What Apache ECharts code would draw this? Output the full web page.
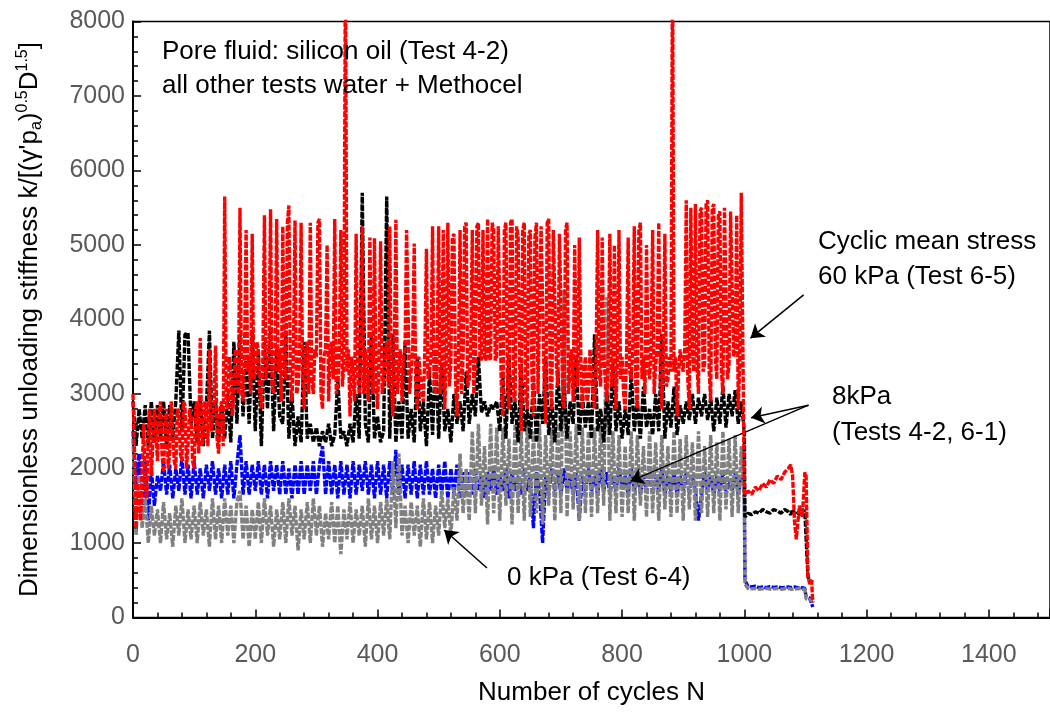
<!DOCTYPE html>
<html>
<head>
<meta charset="utf-8">
<script src="https://cdn.jsdelivr.net/npm/echarts@6/dist/echarts.min.js"></script>
<style>
html,body{margin:0;padding:0;background:#fff;}
#chart{width:1050px;height:716px;}
</style>
</head>
<body>
<div id="chart"></div>
<script>
// Number of cycles N for tests 4-2, 6-1, 6-4 (every 5 cycles, then the tail after cycle 1000)
const cycles = [
0,5,10,15,20,25,30,35,40,45,
50,55,60,65,70,75,80,85,90,95,
100,105,110,115,120,125,130,135,140,145,
150,155,160,165,170,175,180,185,190,195,
200,205,210,215,220,225,230,235,240,245,
250,255,260,265,270,275,280,285,290,295,
300,305,310,315,320,325,330,335,340,345,
350,355,360,365,370,375,380,385,390,395,
400,405,410,415,420,425,430,435,440,445,
450,455,460,465,470,475,480,485,490,495,
500,505,510,515,520,525,530,535,540,545,
550,555,560,565,570,575,580,585,590,595,
600,605,610,615,620,625,630,635,640,645,
650,655,660,665,670,675,680,685,690,695,
700,705,710,715,720,725,730,735,740,745,
750,755,760,765,770,775,780,785,790,795,
800,805,810,815,820,825,830,835,840,845,
850,855,860,865,870,875,880,885,890,895,
900,905,910,915,920,925,930,935,940,945,
950,955,960,965,970,975,980,985,990,995,
1000,
1001,1006,1012,1018,1024,1030,1036,1042,1048,1054,
1060,1066,1072,1076,1079,1082,1085,1090,1095,1099,
1101,1104,1107,1110,1112];

// Number of cycles N for test 6-5 (every 2.5 cycles, then the tail)
const cycles65 = [
0,2.5,5,7.5,10,12.5,15,17.5,20,22.5,25,27.5,30,32.5,35,37.5,40,42.5,45,47.5,
50,52.5,55,57.5,60,62.5,65,67.5,70,72.5,75,77.5,80,82.5,85,87.5,90,92.5,95,97.5,
100,102.5,105,107.5,110,112.5,115,117.5,120,122.5,125,127.5,130,132.5,135,137.5,140,142.5,145,147.5,
150,152.5,155,157.5,160,162.5,165,167.5,170,172.5,175,177.5,180,182.5,185,187.5,190,192.5,195,197.5,
200,202.5,205,207.5,210,212.5,215,217.5,220,222.5,225,227.5,230,232.5,235,237.5,240,242.5,245,247.5,
250,252.5,255,257.5,260,262.5,265,267.5,270,272.5,275,277.5,280,282.5,285,287.5,290,292.5,295,297.5,
300,302.5,305,307.5,310,312.5,315,317.5,320,322.5,325,327.5,330,332.5,335,337.5,340,342.5,345,347.5,
350,352.5,355,357.5,360,362.5,365,367.5,370,372.5,375,377.5,380,382.5,385,387.5,390,392.5,395,397.5,
400,402.5,405,407.5,410,412.5,415,417.5,420,422.5,425,427.5,430,432.5,435,437.5,440,442.5,445,447.5,
450,452.5,455,457.5,460,462.5,465,467.5,470,472.5,475,477.5,480,482.5,485,487.5,490,492.5,495,497.5,
500,502.5,505,507.5,510,512.5,515,517.5,520,522.5,525,527.5,530,532.5,535,537.5,540,542.5,545,547.5,
550,552.5,555,557.5,560,562.5,565,567.5,570,572.5,575,577.5,580,582.5,585,587.5,590,592.5,595,597.5,
600,602.5,605,607.5,610,612.5,615,617.5,620,622.5,625,627.5,630,632.5,635,637.5,640,642.5,645,647.5,
650,652.5,655,657.5,660,662.5,665,667.5,670,672.5,675,677.5,680,682.5,685,687.5,690,692.5,695,697.5,
700,702.5,705,707.5,710,712.5,715,717.5,720,722.5,725,727.5,730,732.5,735,737.5,740,742.5,745,747.5,
750,752.5,755,757.5,760,762.5,765,767.5,770,772.5,775,777.5,780,782.5,785,787.5,790,792.5,795,797.5,
800,802.5,805,807.5,810,812.5,815,817.5,820,822.5,825,827.5,830,832.5,835,837.5,840,842.5,845,847.5,
850,852.5,855,857.5,860,862.5,865,867.5,870,872.5,875,877.5,880,882.5,885,887.5,890,892.5,895,897.5,
900,902.5,905,907.5,910,912.5,915,917.5,920,922.5,925,927.5,930,932.5,935,937.5,940,942.5,945,947.5,
950,952.5,955,957.5,960,962.5,965,967.5,970,972.5,975,977.5,980,982.5,985,987.5,990,992.5,995,997.5,
1000,
1001,1006,1012,1018,1024,1030,1036,1042,1048,1054,
1060,1066,1072,1076,1079,1082,1085,1090,1095,1099,
1101,1104,1107,1110,1112];

// Cyclic mean stress 60 kPa (Test 6-5) - red
const stress60kPa = [
3000,2200,1200,1800,1500,1300,2000,2600,1700,1600,2500,2800,1900,1900,2800,2500,2100,2700,2900,2200,
1950,2600,2800,2000,2200,2900,2900,2100,2000,2800,2750,2200,2100,2900,2850,2000,2300,2800,2700,2100,
2000,2800,2900,2200,3750,2300,2400,2900,2800,2300,3600,2500,2500,2800,3650,2400,2200,2800,2900,2300,
5650,2900,2800,3500,3300,2700,3000,3600,3600,3000,5500,3100,2900,3600,5200,3300,3500,3000,5150,3200,
3300,3700,3600,3000,2800,3500,5400,3200,3400,3600,5480,3100,3000,3500,5350,3300,3600,2900,5250,3400,
3200,5300,5530,3100,2900,3600,5330,3000,3100,3500,5300,3200,2800,3600,3700,3000,5300,3200,3000,3600,
3500,5300,5350,3000,2800,3500,3600,5000,2900,3600,3700,3200,5350,3000,3100,3600,5200,3100,3400,9000,
3300,3600,2700,3500,3300,2900,5150,3300,3000,3600,5250,3000,3600,3300,2900,5100,3400,3000,5090,3200,
2800,3500,5050,3000,3200,3600,3700,3100,5250,3200,2700,3600,5340,3000,3400,3600,2900,3500,3600,5200,
5200,3000,3300,3600,5020,3100,2800,3500,3500,3000,2900,3600,4950,3200,3300,3500,5250,3100,3000,3600,
5250,3000,3200,5200,2800,3500,5300,3100,3400,5100,5150,3200,2700,3500,5200,3000,3500,5250,5300,3100,
3200,3600,5200,3000,3450,5250,5300,3500,3450,5200,3500,3450,5350,3500,3450,5300,5200,3450,3500,5250,
5250,3100,2700,5200,5300,3200,2800,5300,5350,3000,2900,5250,5100,3400,2500,5200,5300,3000,2800,5150,
5200,3300,2700,5100,5300,3000,3000,5250,5250,3200,2600,5300,5350,3100,2800,5200,5200,3400,3100,5150,
5150,3200,2800,5200,5300,3000,3400,3600,2900,5000,3600,3100,5100,3500,2800,3300,3500,2900,3000,3600,
3600,3000,2800,3500,5200,3300,3100,5100,3500,3200,2900,3600,5150,3100,3300,5000,2800,3500,5200,3200,
3500,3000,2800,3600,5100,3300,3200,3600,5250,3100,2800,5200,5300,3200,3500,3000,5000,3400,3200,3600,
5200,3000,3400,3600,5300,3200,2800,3500,5150,3100,3200,3500,3300,9000,3300,3500,2700,3300,3600,3400,
3300,3600,5600,3200,2800,5500,3600,3300,5550,3400,3000,5450,5500,3300,3400,5550,5600,3300,2900,5500,
5550,3500,3200,5400,5450,3300,3000,5500,5500,3200,3400,5450,5450,3500,3600,5400,2800,3400,5700,3700,
1700,
1650,1700,1650,1750,1700,1800,1750,1850,1800,1900,
1850,1950,2000,2050,1900,1300,1050,1500,1350,1950,
1900,550,450,500,200];

// 8 kPa (Test 4-2) - black
const test42 = [
2900,2300,2800,2400,2850,2300,2900,2350,2850,2400,
2900,2300,2850,2400,2900,3850,2500,3800,3820,2600,
2900,2350,2950,2300,2800,3850,2400,2900,2350,2850,
2400,3000,2350,3700,2600,3800,2700,3500,2600,3850,
2500,3600,2300,3700,2800,3850,2500,3600,2700,2600,
3850,2400,3000,2300,2700,2350,3700,2400,2600,2350,
2550,2300,2500,2350,2600,2300,2450,3200,2400,2500,
2300,2600,2350,3000,2400,5700,2600,2350,3800,2400,
2700,2350,2500,5650,2400,3800,2350,2900,2400,3700,
2400,2800,2350,3500,2500,2900,2300,3300,2450,3600,
2400,3400,2500,2800,2350,3000,2600,2900,2500,3300,
2600,3000,2700,3500,2750,2900,2700,2850,2800,2900,
2500,3300,2400,3500,2600,2900,2350,3400,2500,2800,
2400,3200,2350,3000,2600,3500,2450,2900,2350,3300,
2500,3100,2400,2900,2600,3500,2450,3000,2550,2900,
2400,3800,2500,2800,2350,3000,2450,3400,2500,2900,
2400,2800,2450,3300,2500,2900,2400,3100,2550,2800,
2450,3000,2500,3800,2400,2900,2550,3100,2450,2850,
2600,2900,2650,3000,2600,2950,2700,3000,2650,2950,
2500,2950,2600,3100,2550,3000,2700,3050,2600,2900,
2500,
1350,1400,1380,1420,1400,1450,1420,1400,1450,1430,
1400,1450,1420,1380,1450,1400,1430,1380,1450,1420,
1400,550,500,480,470];

// 8 kPa (Test 6-1) - blue
const test61 = [
2500,1800,2200,1350,2100,1300,2000,1500,1900,1700,
2100,1650,2050,1600,2000,1700,2150,1650,2050,1600,
2100,1650,2000,1600,2050,1700,2100,1650,2000,1600,
2050,1650,2100,1600,2050,2450,1650,2100,1650,2050,
1700,2100,1650,2050,1600,2100,1700,2050,1650,2100,
1650,2000,1600,2050,1650,2100,1650,2050,1700,2100,
1650,2050,2300,1650,2100,1650,2050,1600,2100,1650,
2050,1600,2100,1650,2050,1700,2100,1650,2050,1600,
2100,1650,2050,1600,2100,1650,2250,1650,2050,1600,
2050,1650,2100,1600,2050,1650,2100,1650,2000,1600,
2050,1650,2100,1600,2000,1650,2050,1600,1950,1650,
1950,1650,2000,1700,1900,1600,1950,1700,2000,1650,
1900,1700,2000,1600,1950,1700,1900,1650,2000,1700,
1900,1200,1950,1700,1000,1900,1650,2000,1700,1950,
1650,2000,1700,1900,1650,1950,1300,1900,1700,2000,
1700,1900,1650,2000,1700,1950,1650,1900,1700,2000,
1750,1900,1650,2000,1700,1950,1650,1900,1700,1950,
1650,1900,1700,2000,1650,1900,1700,1950,1650,1900,
1700,1950,1650,1900,1700,1300,1650,1950,1700,1900,
1650,1900,1700,1950,1650,1850,1700,1950,1650,1900,
1800,
500,420,410,420,400,410,400,415,405,410,
400,405,410,400,405,410,400,395,400,390,
280,270,260,250,140];

// 0 kPa (Test 6-4) - grey
const test64 = [
2400,1100,1900,1200,1600,1000,1500,1100,1450,1000,
1550,1050,1400,950,1500,1100,1600,1000,1450,1050,
1500,1000,1550,1100,1450,950,1600,1050,1500,1000,
1600,1100,1500,1000,1550,1700,1050,1500,950,1450,
1050,1550,1000,1600,1100,1500,950,1450,1050,1550,
1000,1600,1100,1500,900,1450,1050,1550,1000,1600,
1100,1500,950,1400,1050,1550,1000,1500,850,1450,
1050,1550,1000,1450,1100,1500,950,1600,1050,1500,
1000,1550,1100,1600,1050,2100,1200,2200,1100,1500,
1000,1550,1100,1500,950,1600,1050,1550,1000,1500,
1100,1700,1200,1600,1100,1750,1300,2200,1400,2000,
1300,2500,1400,2600,1500,2300,1250,2600,1400,2550,
1300,2550,1500,2400,1250,2600,1400,2500,1300,2650,
1350,2500,1400,2600,1250,2450,1500,2550,1300,2600,
1400,4400,1350,2500,1450,2600,1300,2550,1400,2500,
1350,2550,1400,2600,1500,4300,1300,2500,1400,2450,
1350,2300,1400,2500,1300,2450,1500,2300,1350,2500,
1400,2350,1300,2450,1450,2300,1350,2500,1400,2400,
1300,2450,1450,2350,1300,2500,1400,2300,1350,2450,
1400,2350,1300,2500,1450,2400,1350,2450,1400,2300,
1500,
450,390,385,390,380,385,390,380,385,390,
380,385,390,380,385,380,385,390,380,380,
250,240,240,230,220];

// Annotation arrows [from N, from k, to N, to k]
const arrowCyclic = [1097, 4330, 1010, 3750];
const arrow8kPaA = [1105, 2850, 1011, 2680];
const arrow8kPaB = [1105, 2850, 814, 1830];
const arrow0kPa = [579, 665, 509, 1175];

const FONT = 'Liberation Sans';
const pair = (xs, arr) => xs.map((c, i) => [c, arr[i]]);
const arrowData = [arrowCyclic, arrow8kPaA, arrow8kPaB, arrow0kPa].map(a => [
  {coord: [a[0], a[1]]}, {coord: [a[2], a[3]]}
]);

function lineSeries(name, xs, arr, color, z) {
  return {
    name: name, type: 'line', data: pair(xs, arr), z: z,
    showSymbol: false, symbol: 'none', clip: true,
    lineStyle: {color: color, width: 3.4, type: [6, 1.5]},
    emphasis: {disabled: true}
  };
}

const chart = echarts.init(document.getElementById('chart'), null, {renderer: 'canvas'});
const series = [
  lineSeries('Test 6-1', cycles, test61, '#0000FF', 2),
  lineSeries('Test 6-4', cycles, test64, '#808080', 3),
  lineSeries('Test 4-2', cycles, test42, '#000000', 4),
  lineSeries('Test 6-5', cycles65, stress60kPa, '#FF0000', 5)
];
series.push({
  type: 'line', data: [], z: 10,
  markLine: {
    silent: true, animation: false,
    symbol: ['none', 'arrow'], symbolSize: 13,
    label: {show: false},
    lineStyle: {color: '#000', width: 1.5, type: 'solid'},
    data: arrowData
  }
});

const txt = {fontFamily: FONT, fontSize: 26, fill: '#000', textVerticalAlign: 'middle'};
function label(x, y, s) { return {type: 'text', left: x, top: y - 15, z: 20, style: Object.assign({text: s}, txt)}; }
const plain = v => String(v);

chart.setOption({
  animation: false,
  backgroundColor: '#fff',
  grid: {left: 133, right: -8.5, top: 21.5, bottom: 98.5, show: true, borderColor: '#000', borderWidth: 1.5},
  xAxis: {
    type: 'value', min: 0, max: 1500, interval: 200,
    name: 'Number of cycles N', nameLocation: 'middle', nameGap: 62,
    nameTextStyle: {fontFamily: FONT, fontSize: 26, color: '#000'},
    axisLine: {show: true, lineStyle: {color: '#000', width: 2}},
    axisTick: {show: true, inside: true, length: 8, lineStyle: {color: '#000', width: 1.5}},
    minorTick: {show: true, splitNumber: 5, length: 5, lineStyle: {color: '#000', width: 1.5}},
    axisLabel: {fontFamily: FONT, fontSize: 25, color: '#595959', margin: 25, showMaxLabel: false, formatter: plain},
    splitLine: {show: false}
  },
  yAxis: {
    type: 'value', min: 0, max: 8000, interval: 1000,
    name: "Dimensionless unloading stiffness k/[(γ'p{sub|a}){sup|0.5}D{sup|1.5}]",
    nameLocation: 'middle', nameRotate: 90, nameGap: 88,
    nameTextStyle: {
      fontFamily: FONT, fontSize: 26, color: '#000', lineHeight: 30,
      rich: {
        sub: {fontFamily: FONT, fontSize: 16, color: '#000', verticalAlign: 'bottom', lineHeight: 30},
        sup: {fontFamily: FONT, fontSize: 16, color: '#000', verticalAlign: 'top', lineHeight: 30}
      }
    },
    axisLine: {show: true, lineStyle: {color: '#000', width: 2}},
    axisTick: {show: true, inside: true, length: 8, lineStyle: {color: '#000', width: 1.5}},
    minorTick: {show: true, splitNumber: 5, length: 5, lineStyle: {color: '#000', width: 1.5}},
    axisLabel: {fontFamily: FONT, fontSize: 25, color: '#595959', margin: 8, formatter: plain},
    splitLine: {show: false}
  },
  graphic: [
    label(162, 54, 'Pore fluid: silicon oil (Test 4-2)'),
    label(162, 88, 'all other tests water + Methocel'),
    label(818, 244, 'Cyclic mean stress'),
    label(818, 279, '60 kPa (Test 6-5)'),
    label(832, 399, '8kPa'),
    label(832, 435, '(Tests 4-2, 6-1)'),
    label(507, 580, '0 kPa (Test 6-4)')
  ],
  series: series
});
</script>
</body>
</html>
